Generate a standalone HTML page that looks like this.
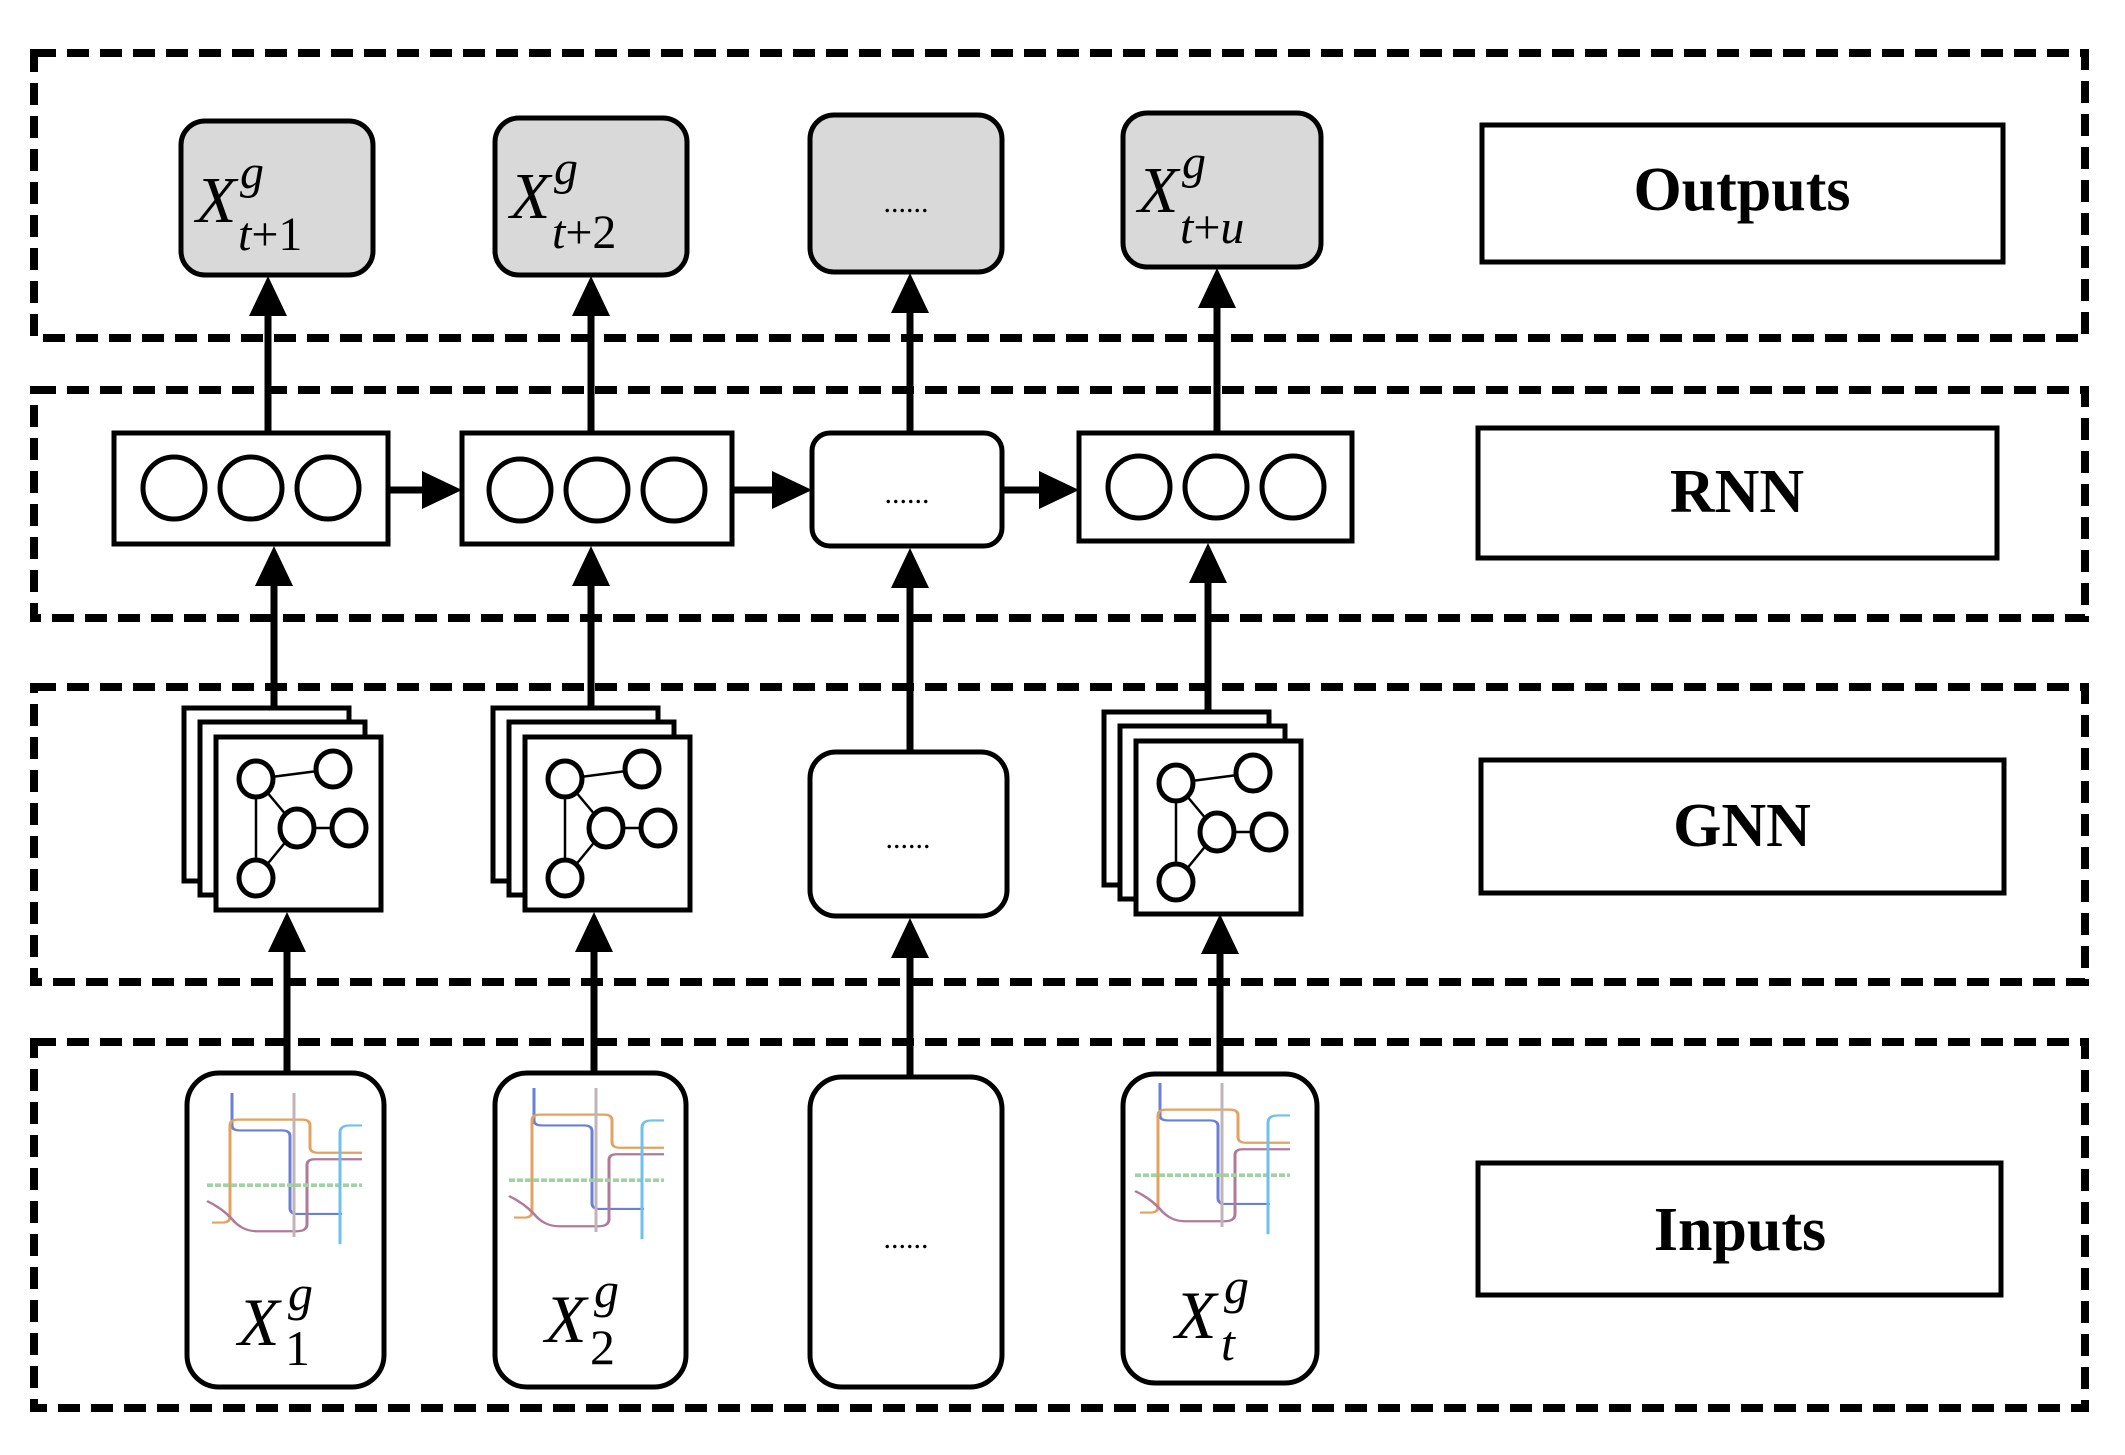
<!DOCTYPE html>
<html><head><meta charset="utf-8"><style>
html,body{margin:0;padding:0;background:#fff}
svg{display:block}
.lbl{font-family:"Liberation Serif",serif;font-weight:bold;font-size:62px;text-anchor:middle}
.m{font-family:"Liberation Serif",serif;font-style:italic}
.u{font-style:normal}
.dots{font-family:"Liberation Serif",serif;font-size:30px;text-anchor:middle}
</style></head><body>
<svg width="2125" height="1455" viewBox="0 0 2125 1455" xmlns="http://www.w3.org/2000/svg">
<defs>
<g id="graph" fill="#fff" stroke="#000">
 <line x1="40" y1="42" x2="117" y2="32" stroke-width="2.5"/>
 <line x1="40" y1="42" x2="81" y2="91" stroke-width="2.5"/>
 <line x1="40" y1="42" x2="40" y2="141" stroke-width="2.5"/>
 <line x1="81" y1="91" x2="40" y2="141" stroke-width="2.5"/>
 <line x1="81" y1="91" x2="133" y2="91" stroke-width="2.5"/>
 <ellipse cx="40" cy="42" rx="17" ry="18" stroke-width="5"/>
 <ellipse cx="117" cy="32" rx="17" ry="18" stroke-width="5"/>
 <ellipse cx="81" cy="91" rx="17" ry="19" stroke-width="5"/>
 <ellipse cx="133" cy="91" rx="17" ry="18" stroke-width="5"/>
 <ellipse cx="40" cy="141" rx="17" ry="18" stroke-width="5"/>
</g>
<g id="stack">
 <rect x="0" y="0" width="165" height="173" fill="#fff" stroke="#000" stroke-width="5"/>
 <rect x="16" y="14" width="165" height="173" fill="#fff" stroke="#000" stroke-width="5"/>
 <rect x="32" y="29" width="165" height="173" fill="#fff" stroke="#000" stroke-width="5"/>
 <use href="#graph" x="32" y="29"/>
</g>
<g id="map" fill="none" stroke-width="3">
 <path d="M20 0 V45 Q20 52 28 52 H70 Q78 52 78 60 V160 Q78 168 86 168 H130" stroke="#6a7fd6"/>
 <path d="M0 180 H10 Q18 180 18 172 V45 Q18 37 26 37 H90 Q98 37 98 45 V75 Q98 83 106 83 H150" stroke="#e3a25f"/>
 <path d="M-5 150 Q10 160 20 175 Q30 192 45 192 H85 Q95 192 95 182 V100 Q95 92 103 92 H150" stroke="#b07a9a"/>
 <path d="M82 0 V200" stroke="#c0b4b8"/>
 <path d="M-5 128 H150" stroke="#9fd39f" stroke-dasharray="6 2" stroke-width="5"/>
 <path d="M128 210 V55 Q128 45 138 45 H150" stroke="#6ec0ee"/>
</g>
</defs>

<g fill="none" stroke="#000" stroke-width="8" stroke-dasharray="22 11">
 <rect x="34" y="53" width="2051" height="285"/>
 <rect x="34" y="390" width="2051" height="228"/>
 <rect x="34" y="687" width="2051" height="295"/>
 <rect x="34" y="1042" width="2051" height="366"/>
</g>

<g fill="#fff" stroke="#000" stroke-width="5">
 <rect x="1482" y="125" width="521" height="137"/>
 <rect x="1478" y="428" width="519" height="130"/>
 <rect x="1481" y="760" width="523" height="133"/>
 <rect x="1478" y="1163" width="523" height="132"/>
</g>
<text class="lbl" x="1742" y="210">Outputs</text>
<text class="lbl" x="1737" y="512">RNN</text>
<text class="lbl" x="1742" y="846">GNN</text>
<text class="lbl" x="1740" y="1250">Inputs</text>

<g stroke="#000" stroke-width="7">
 <line x1="268" y1="433" x2="268" y2="310"/>
 <line x1="591" y1="433" x2="591" y2="310"/>
 <line x1="910" y1="433" x2="910" y2="310"/>
 <line x1="1217" y1="433" x2="1217" y2="305"/>
 <line x1="274" y1="708" x2="274" y2="580"/>
 <line x1="591" y1="708" x2="591" y2="580"/>
 <line x1="910" y1="752" x2="910" y2="580"/>
 <line x1="1208" y1="712" x2="1208" y2="578"/>
 <line x1="287" y1="1073" x2="287" y2="945"/>
 <line x1="594" y1="1073" x2="594" y2="945"/>
 <line x1="910" y1="1077" x2="910" y2="950"/>
 <line x1="1220" y1="1074" x2="1220" y2="947"/>
 <line x1="388" y1="490" x2="430" y2="490"/>
 <line x1="732" y1="490" x2="780" y2="490"/>
 <line x1="1002" y1="490" x2="1048" y2="490"/>
</g>
<g fill="#000">
 <polygon points="268,276 249,316 287,316"/>
 <polygon points="591,276 572,316 610,316"/>
 <polygon points="910,273 891,313 929,313"/>
 <polygon points="1217,268 1198,308 1236,308"/>
 <polygon points="274,546 255,586 293,586"/>
 <polygon points="591,546 572,586 610,586"/>
 <polygon points="910,548 891,588 929,588"/>
 <polygon points="1208,543 1189,583 1227,583"/>
 <polygon points="287,912 268,952 306,952"/>
 <polygon points="594,912 575,952 613,952"/>
 <polygon points="910,918 891,958 929,958"/>
 <polygon points="1220,914 1201,954 1239,954"/>
 <polygon points="462,490 422,471 422,509"/>
 <polygon points="812,490 772,471 772,509"/>
 <polygon points="1079,490 1039,471 1039,509"/>
</g>

<g fill="#d9d9d9" stroke="#000" stroke-width="5">
 <rect x="181" y="121" width="192" height="154" rx="24"/>
 <rect x="495" y="118" width="192" height="157" rx="24"/>
 <rect x="810" y="115" width="192" height="157" rx="24"/>
 <rect x="1123" y="113" width="198" height="154" rx="24"/>
</g>
<g class="m">
 <text x="196" y="222" font-size="66">X</text><text x="240" y="188" font-size="48">g</text><text x="238" y="250" font-size="48">t<tspan class="u">+1</tspan></text>
 <text x="510" y="218" font-size="66">X</text><text x="554" y="184" font-size="48">g</text><text x="552" y="248" font-size="48">t<tspan class="u">+2</tspan></text>
 <text x="1138" y="212" font-size="66">X</text><text x="1182" y="178" font-size="48">g</text><text x="1180" y="243" font-size="48">t<tspan class="u">+</tspan>u</text>
</g>
<text class="dots" x="906" y="212">......</text>

<g fill="#fff" stroke="#000" stroke-width="5">
 <rect x="114" y="433" width="274" height="111"/>
 <rect x="462" y="433" width="270" height="111"/>
 <rect x="812" y="433" width="190" height="113" rx="18"/>
 <rect x="1079" y="433" width="273" height="108"/>
 <circle cx="174" cy="488" r="31"/><circle cx="251" cy="488" r="31"/><circle cx="328" cy="488" r="31"/>
 <circle cx="520" cy="490" r="31"/><circle cx="597" cy="490" r="31"/><circle cx="674" cy="490" r="31"/>
 <circle cx="1139" cy="487" r="31"/><circle cx="1216" cy="487" r="31"/><circle cx="1293" cy="487" r="31"/>
</g>
<text class="dots" x="907" y="503">......</text>

<use href="#stack" x="184" y="708"/>
<use href="#stack" x="493" y="708"/>
<use href="#stack" x="1104" y="712"/>
<rect x="810" y="752" width="197" height="164" rx="26" fill="#fff" stroke="#000" stroke-width="5"/>
<text class="dots" x="908" y="848">......</text>

<g fill="#fff" stroke="#000" stroke-width="5">
 <rect x="187" y="1073" width="197" height="314" rx="32"/>
 <rect x="495" y="1073" width="191" height="314" rx="32"/>
 <rect x="810" y="1077" width="192" height="310" rx="32"/>
 <rect x="1123" y="1074" width="194" height="309" rx="32"/>
</g>
<g transform="translate(212,1093) scale(1,0.72)"><use href="#map"/></g>
<g transform="translate(514,1088) scale(1,0.72)"><use href="#map"/></g>
<g transform="translate(1140,1083) scale(1,0.72)"><use href="#map"/></g>
<text class="dots" x="906" y="1248">......</text>
<g class="m">
 <text x="238" y="1345" font-size="68">X</text><text x="288" y="1310" font-size="50">g</text><text x="285" y="1365" font-size="50" class="u">1</text>
 <text x="545" y="1342" font-size="68">X</text><text x="594" y="1307" font-size="50">g</text><text x="590" y="1364" font-size="50" class="u">2</text>
 <text x="1175" y="1338" font-size="68">X</text><text x="1224" y="1303" font-size="50">g</text><text x="1221" y="1360" font-size="50">t</text>
</g>
</svg>
</body></html>
